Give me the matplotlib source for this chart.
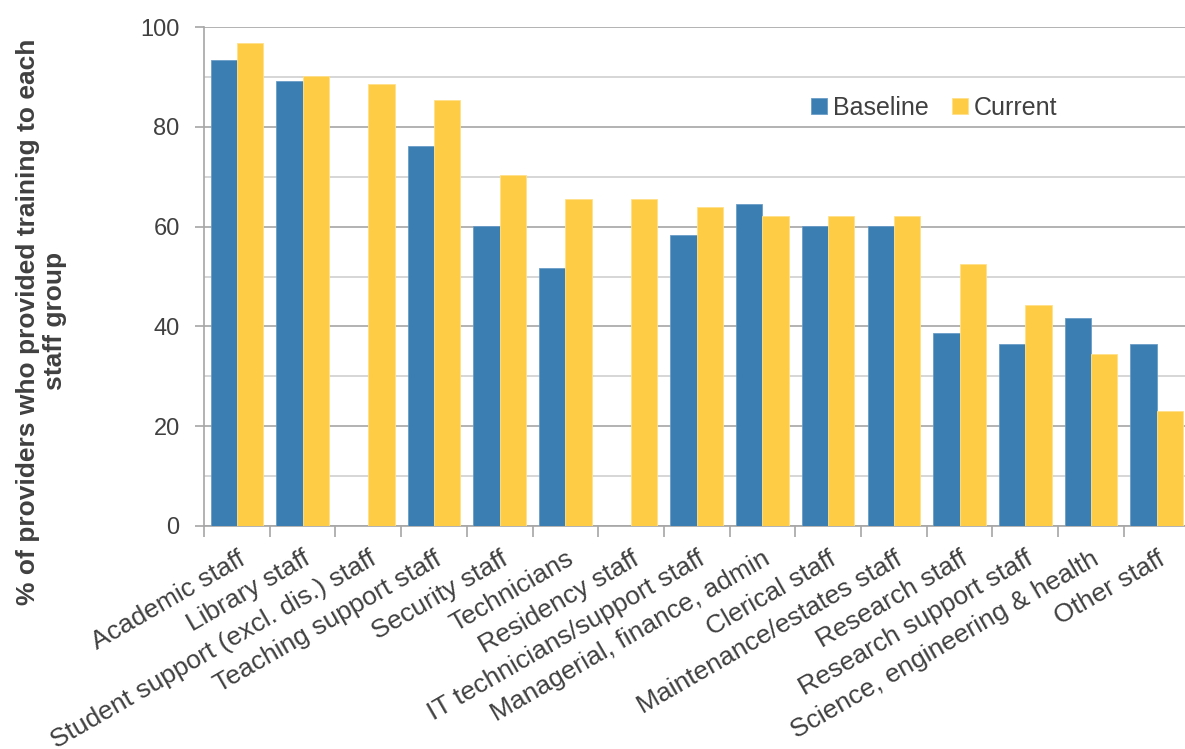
import numpy as np
import matplotlib
matplotlib.use("Agg")
import matplotlib.pyplot as plt
from matplotlib.ticker import MultipleLocator

plt.rcParams['font.family'] = ['Liberation Sans', 'DejaVu Sans']

# data
categories = ['Academic staff', 'Library staff', 'Student support (excl. dis.) staff',
              'Teaching support staff', 'Security staff', 'Technicians', 'Residency staff',
              'IT technicians/support staff', 'Managerial, finance, admin', 'Clerical staff',
              'Maintenance/estates staff', 'Research staff', 'Research support staff',
              'Science, engineering & health', 'Other staff']
baseline = [93.4, 89.2, 0, 76.2, 60.1, 51.7, 0, 58.3, 64.5, 60.1, 60.1, 38.7, 36.5, 41.7, 36.5]
current = [96.8, 90.2, 88.6, 85.4, 70.3, 65.5, 65.5, 63.9, 62.1, 62.1, 62.1, 52.5, 44.3, 34.5, 23.0]

blue = '#3A7EB2'
yellow = '#FFCD45'
text_col = '#404040'
grid_col = '#a6a6a6'

fig = plt.figure(figsize=(11.85, 7.49), dpi=100)
# plot area runs slightly past the right edge, as in the reference
ax = fig.add_axes([204 / 1185, 1 - 526 / 749, 985.5 / 1185, 499 / 749])

x = np.arange(len(categories))
w = 0.4
ax.bar(x - w / 2, baseline, w, color=blue, edgecolor='#6a9cc8', linewidth=0.6, label='Baseline', zorder=3)
ax.bar(x + w / 2, current, w, color=yellow, edgecolor='#ffe08a', linewidth=0.6, label='Current', zorder=3)

ax.set_xlim(-0.5, len(categories) - 0.5)
ax.set_ylim(0, 100)
ax.yaxis.set_major_locator(MultipleLocator(20))
ax.yaxis.set_minor_locator(MultipleLocator(10))
ax.grid(axis='y', which='major', color=grid_col, linewidth=1.2, zorder=0)
ax.grid(axis='y', which='minor', color='#d0d0d0', linewidth=1.2, zorder=0)

for s in ['top', 'right']:
    ax.spines[s].set_visible(False)
for s in ['left', 'bottom']:
    ax.spines[s].set_color(grid_col)
    ax.spines[s].set_linewidth(1.2)

# tick marks at category boundaries, labels at the centres
ax.set_xticks(np.arange(len(categories) + 1) - 0.5)
ax.set_xticklabels([])
ax.set_xticks(x, minor=True)
ax.set_xticklabels(categories, minor=True, rotation=30, ha='right',
                   rotation_mode='anchor', fontsize=19, color=text_col)
ax.tick_params(axis='x', which='major', length=8, color=grid_col, width=1.2)
ax.tick_params(axis='x', which='minor', length=0, pad=15)
ax.tick_params(axis='y', which='major', length=6.5, color=grid_col, width=1.2, labelsize=17,
               labelcolor=text_col, pad=11)
ax.tick_params(axis='y', which='minor', length=0)

fig.text(0.035, 0.571, '% of providers who provided training to each\nstaff group',
         rotation=90, ha='center', va='center', multialignment='center',
         fontsize=19, fontweight='bold', color=text_col)

ax.legend(loc='center left', bbox_to_anchor=(0.603, 0.838), ncol=2, frameon=False, fontsize=18,
          handlelength=0.65, handleheight=0.65, handletextpad=0.25, columnspacing=0.9,
          labelcolor=text_col, borderpad=0)

fig.savefig('out.png', dpi=100, facecolor='white')
